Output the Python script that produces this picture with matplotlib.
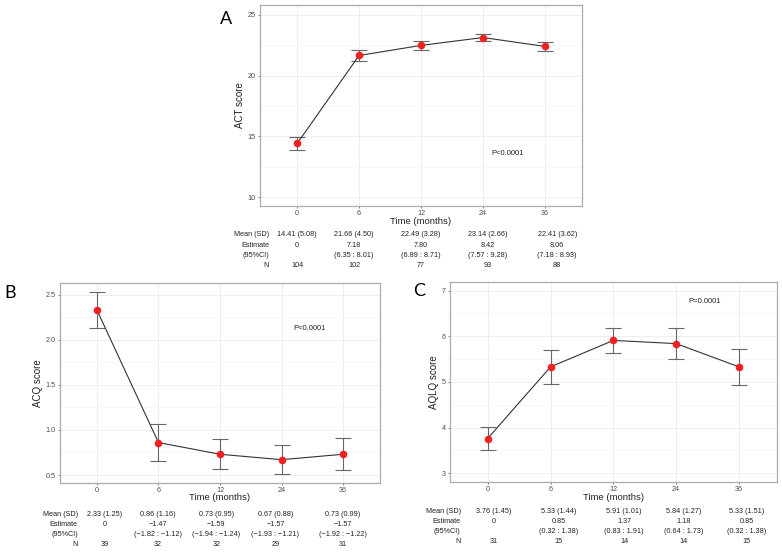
import matplotlib
matplotlib.use("Agg")
from matplotlib import pyplot as plt
from matplotlib import transforms
import numpy as np

plt.rcParams["font.family"] = ["Liberation Sans", "DejaVu Sans"]

W, H = 782, 554

times = ["0", "6", "12", "24", "36"]

# Panel A: ACT
act_mean = [14.41, 21.66, 22.49, 23.14, 22.41]
act_se = [0.50, 0.45, 0.37, 0.28, 0.39]
act_sd = ["14.41 (5.08)", "21.66 (4.50)", "22.49 (3.28)", "23.14 (2.66)", "22.41 (3.62)"]
act_est = ["0", "7.18", "7.80", "8.42", "8.06"]
act_ci = ["", "(6.35 : 8.01)", "(6.89 : 8.71)", "(7.57 : 9.28)", "(7.18 : 8.93)"]
act_n = ["104", "102", "77", "93", "88"]

# Panel B: ACQ
acq_mean = [2.33, 0.86, 0.73, 0.67, 0.73]
acq_se = [0.20, 0.205, 0.168, 0.163, 0.178]
acq_sd = ["2.33 (1.25)", "0.86 (1.16)", "0.73 (0.95)", "0.67 (0.88)", "0.73 (0.99)"]
acq_est = ["0", "\u22121.47", "\u22121.59", "\u22121.57", "\u22121.57"]
acq_ci = ["", "(\u22121.82 : \u22121.12)", "(\u22121.94 : \u22121.24)",
          "(\u22121.93 : \u22121.21)", "(\u22121.92 : \u22121.22)"]
acq_n = ["39", "32", "32", "29", "31"]

# Panel C: AQLQ
aqlq_mean = [3.76, 5.33, 5.91, 5.84, 5.33]
aqlq_se = [0.26, 0.37, 0.27, 0.34, 0.39]
aqlq_sd = ["3.76 (1.45)", "5.33 (1.44)", "5.91 (1.01)", "5.84 (1.27)", "5.33 (1.51)"]
aqlq_est = ["0", "0.85", "1.37", "1.18", "0.85"]
aqlq_ci = ["", "(0.32 : 1.38)", "(0.83 : 1.91)", "(0.64 : 1.73)", "(0.32 : 1.38)"]
aqlq_n = ["31", "15", "14", "14", "15"]

row_names = ["Mean (SD)", "Estimate", "(95%CI)", "N"]


def px_box(left, right, top, bottom):
    return [left / W, 1 - bottom / H, (right - left) / W, (bottom - top) / H]


def panel(box, mean, se, ylabel, ylim, major, minor, ytl, pval, pxy,
          letter, letter_xy, table, col_x, rows_y, rowlab_x, xlab_y):
    ax = fig.add_axes(px_box(*box))
    x = np.arange(len(times))
    ax.set_xlim(-0.6, 4.6)
    ax.set_ylim(*ylim)
    ax.set_xticks(x)
    ax.set_xticklabels(times)
    ax.set_yticks(major)
    ax.set_yticklabels(ytl)
    ax.set_yticks(minor, minor=True)
    ax.grid(True, which="major", color="#EBEBEB", lw=0.6)
    ax.grid(True, which="minor", axis="y", color="#F2F2F2", lw=0.4)
    ax.set_axisbelow(True)
    for s in ax.spines.values():
        s.set_color("#ABABAB")
        s.set_linewidth(0.9)
    ax.tick_params(axis="both", which="major", labelsize=5.2, colors="#4D4D4D",
                   length=1.5, width=0.5, pad=1.5)
    ax.tick_params(axis="y", which="minor", length=0)
    ax.errorbar(x, mean, yerr=se, fmt="none", ecolor="#666666", elinewidth=0.8,
                capsize=6, capthick=0.8, zorder=2)
    ax.plot(x, mean, color="#333333", lw=0.8, zorder=3)
    ax.scatter(x, mean, s=30, color="#EE2222", zorder=4, linewidths=0)
    ax.set_ylabel(ylabel, fontsize=7, color="#222222", labelpad=2)
    ax.text(pxy[0], pxy[1], pval, transform=ax.transAxes, fontsize=5.5,
            color="#222222", ha="center", va="center")
    fig.text(letter_xy[0] / W, 1 - letter_xy[1] / H, letter, fontsize=13,
             family=["Lato", "DejaVu Sans"], ha="center", va="center")
    fig.text((box[0] + box[1]) / 2 / W, 1 - xlab_y / H, "Time (months)",
             fontsize=6.8, color="#222222", ha="center", va="center")
    tr = transforms.blended_transform_factory(ax.transData, fig.transFigure)
    for r, (name, vals) in enumerate(zip(row_names, table)):
        yy = 1 - rows_y[r] / H
        fig.text(rowlab_x / W, yy, name, fontsize=5.2, color="#222222",
                 ha="right", va="center")
        for cx, v in zip(col_x, vals):
            ax.text(cx, yy, v, transform=tr, fontsize=5.2, color="#222222",
                    ha="center", va="center", clip_on=False)
    return ax


fig = plt.figure(figsize=(W / 100, H / 100), dpi=100)

panel((260, 582, 5, 206), act_mean, act_se, "ACT score", (9.26, 25.82),
      [10, 15, 20, 25], [12.5, 17.5, 22.5], ["10", "15", "20", "25"],
      "P<0.0001", (0.77, 0.26), "A", (226, 19),
      [act_sd, act_est, act_ci, act_n], [0, 0.92, 2.0, 3.08, 4.2],
      [235, 245, 255.5, 265.7], 269, 221.5)

panel((60, 380, 282.7, 483.3), acq_mean, acq_se, "ACQ score", (0.408, 2.633),
      [0.5, 1.0, 1.5, 2.0, 2.5], [0.75, 1.25, 1.75, 2.25],
      ["0.5", "1.0", "1.5", "2.0", "2.5"],
      "P<0.0001", (0.78, 0.77), "B", (10, 293),
      [acq_sd, acq_est, acq_ci, acq_n], [0.13, 0.99, 1.94, 2.90, 4.0],
      [515, 525, 535, 545], 78, 498)

panel((450, 776.7, 281.7, 482.3), aqlq_mean, aqlq_se, "AQLQ score", (2.80, 7.197),
      [3, 4, 5, 6, 7], [3.5, 4.5, 5.5, 6.5], ["3", "4", "5", "6", "7"],
      "P=0.0001", (0.78, 0.90), "C", (419, 291),
      [aqlq_sd, aqlq_est, aqlq_ci, aqlq_n], [0.1, 1.13, 2.17, 3.12, 4.12],
      [511.7, 521.7, 531.7, 541.7], 460.7, 497)

fig.savefig("out.png", dpi=100)
